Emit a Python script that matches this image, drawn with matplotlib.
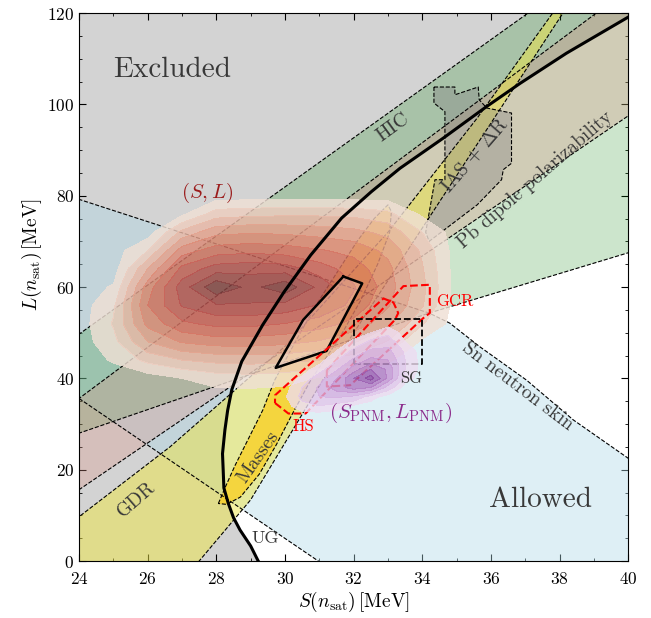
import matplotlib.pyplot as plt
import numpy as np

plt.rcParams['font.family'] = 'serif'
plt.rcParams['font.serif'] = ['cmr10', 'DejaVu Serif']
plt.rcParams['mathtext.fontset'] = 'cm'
plt.rcParams['axes.unicode_minus'] = False
plt.rcParams['axes.formatter.use_mathtext'] = True

# ---- values (S, L in MeV) ----
# unitary gas bound (thick black curve)
ug_S = [29.5, 29.22, 29.0, 28.69, 28.5, 28.35, 28.22, 28.2, 28.18, 28.25, 28.33, 28.45, 28.74,
        29.35, 29.98, 30.75, 31.65, 32.52, 33.35, 34.61, 35.87, 36.85, 38.2, 40.02, 40.5]
ug_L = [-3, 0, 3.3, 6.8, 9.5, 12.6, 16, 19.9, 23.5, 28.7, 33, 37.5, 43.7,
        51.7, 59.0, 67.0, 75.1, 80.9, 86.0, 92.6, 99.5, 104.6, 111.2, 119.2, 122]

# Sn neutron skin band
sn_up_S = [23, 24, 29, 34.2, 34.8, 35.68, 37.04, 38.4, 40, 41]
sn_up_L = [81.6, 79.2, 67, 54.3, 52.1, 46.9, 39.6, 30.9, 22.5, 17]
sn_lo_S = [23, 24, 30.97, 31.6]
sn_lo_L = [40.6, 35.6, 0, -3]

# heavy ion collisions
hic_up_S = [23, 38.2]
hic_up_L = [44.3, 126]
hic_lo_S = [23, 24, 34.2, 40, 41]
hic_lo_L = [25.4, 28, 54.3, 67.5, 69.8]

# Pb dipole polarizability
pb_up_S = [23, 40]
pb_up_L = [30.0, 125.2]
pb_lo_S = [23, 41]
pb_lo_L = [10.5, 102.6]

# giant dipole resonances
gdr_up_S = [22, 24, 26.65, 30, 33, 35.6, 37.8, 38.0]
gdr_up_L = [-1.9, 9.7, 25, 47, 72, 97, 120, 122]
gdr_lo_S = [26.9, 27.5, 29, 31.1, 38.1, 38.3]
gdr_lo_L = [-5, 0, 13.4, 39.6, 120, 122.5]

# nuclear masses
mass_S = [28.06, 28.25, 28.55, 28.95, 29.35, 29.7, 30.3, 30.9, 31.5, 32.1, 32.6, 33.0,
          33.1, 33.05, 32.7, 32.2, 31.6, 30.75, 30.2, 29.75, 29.25, 28.7, 28.3]
mass_L = [12.6, 16, 21, 27, 33, 39.6, 48, 56, 63, 70, 75, 78,
          76.5, 72, 65, 57, 49, 39.6, 32, 25.5, 19, 14, 12.4]

# IAS + Delta R
ias_S = [34.34, 34.95, 34.95, 35.63, 35.66, 35.88, 36.6, 36.6, 36.36, 36.31, 35.6, 34.9,
         34.2, 34.1, 34.37, 34.66, 34.66, 34.34]
ias_L = [103.8, 103.8, 102.1, 103.8, 101, 99.2, 98.1, 87.1, 85.7, 83.5, 78, 74,
         70, 72, 83.5, 83.5, 98.4, 100.3]

# solid black region
blk_S = [31.70, 32.25, 31.21, 29.73, 30.53]
blk_L = [62.3, 60.8, 46.0, 42.3, 52.8]

# HS, GCR, SG
hs_S = [29.71, 30.1, 30.6, 33.2, 33.3, 33.16, 32.87, 29.71]
hs_L = [34.6, 32.3, 32.3, 52.8, 54.3, 56.6, 57.5, 36.3]
gcr_S = [31.22, 31.22, 31.9, 34.03, 34.22, 34.22, 33.45]
gcr_L = [41.8, 38.2, 38.5, 53.2, 54.3, 60.5, 60.2]
sg_S = [32, 34, 34, 32]
sg_L = [43.2, 43.2, 53, 53]

# (S, L) density read as levels on a coarse grid
kde_S = [24, 25, 26, 27, 28, 29, 30, 31, 32, 33, 34, 35]
kde_L = [36, 40, 44, 48, 52, 56, 60, 64, 68, 72, 76, 80]
kde_Z = [
    [0, 0, 0, 0, 0, 0, 0, 0, 0, 0, 0, 0],
    [0, 0, 0, 0.5, 1.0, 1.1, 0.9, 0.4, 0, 0, 0, 0],
    [0, 0.6, 1.8, 2.5, 2.8, 2.9, 2.8, 2.5, 2.0, 0.6, 0, 0],
    [0, 1.2, 3.5, 4.6, 5.0, 5.0, 4.8, 4.4, 3.6, 2.4, 0.3, 0],
    [0, 1.6, 4.8, 6.3, 6.8, 6.8, 6.5, 6.0, 5.2, 3.8, 1.6, 0],
    [0, 1.3, 5.5, 7.6, 8.4, 8.4, 8.2, 7.4, 6.2, 4.6, 2.6, 0],
    [0, 0.6, 5.0, 8.0, 10.3, 9.2, 10.2, 8.2, 6.6, 5.0, 2.8, 0],
    [0, 0, 3.5, 6.8, 8.0, 8.2, 8.0, 7.0, 6.0, 4.8, 2.6, 0],
    [0, 0, 1.5, 5.0, 6.0, 6.2, 6.0, 5.6, 5.2, 4.2, 2.3, 0],
    [0, 0, 0, 2.8, 4.2, 4.4, 4.3, 4.1, 3.8, 3.2, 1.5, 0],
    [0, 0, 0, 0.3, 2.0, 2.2, 2.3, 2.3, 2.2, 1.8, 0.3, 0],
    [0, 0, 0, 0, 0, 0, 0, 0, 0, 0, 0, 0],
]

# (S_PNM, L_PNM) density
pnm_S = [30, 30.5, 31, 31.5, 32, 32.5, 33, 33.5, 34]
pnm_L = [32, 34, 36, 38, 40, 42, 44, 46, 48, 50, 52]
pnm_Z = [
    [0, 0, 0, 0, 0, 0, 0, 0, 0],
    [0, 0.8, 1.0, 0.6, 0.2, 0, 0, 0, 0],
    [0.2, 1.2, 2.0, 2.2, 1.8, 0.6, 0, 0, 0],
    [0, 1.0, 2.2, 3.5, 4.5, 4.0, 1.5, 0, 0],
    [0, 0.4, 1.5, 3.0, 5.0, 6.5, 3.8, 0.6, 0],
    [0, 0, 0.6, 1.8, 3.5, 5.0, 3.8, 1.0, 0],
    [0, 0, 0, 0.9, 2.2, 3.3, 3.0, 1.0, 0],
    [0, 0, 0, 0.3, 1.2, 2.2, 2.3, 0.8, 0],
    [0, 0, 0, 0, 0.4, 1.2, 1.5, 0.3, 0],
    [0, 0, 0, 0, 0, 0.3, 0.8, 0, 0],
    [0, 0, 0, 0, 0, 0, 0, 0, 0],
]

kde_colors = ['#f0e0d5', '#edcdbf', '#e9b8a6', '#e4a18c', '#de8a75', '#d57363',
              '#c96158', '#b85350', '#a34a49', '#874242']
pnm_colors = ['#eedcf0', '#e2c6ea', '#d4aee0', '#c494d2', '#b07ac2', '#9a5cb0', '#8a46a0']

fig = plt.figure(figsize=(6.51, 6.18), dpi=100)
ax = fig.add_axes([0.1214, 0.0922, 0.8436, 0.8867])


def band(up_S, up_L, lo_S, lo_L, corner, color, alpha):
    xs = list(up_S) + [c[0] for c in corner] + list(lo_S)[::-1]
    ys = list(up_L) + [c[1] for c in corner] + list(lo_L)[::-1]
    ax.fill(xs, ys, color=color, alpha=alpha, lw=0, zorder=2)
    ax.plot(up_S, up_L, 'k--', lw=0.8, zorder=4)
    ax.plot(lo_S, lo_L, 'k--', lw=0.8, zorder=4)


# excluded region left of the UG curve
ax.fill_betweenx(ug_L, 23, ug_S, color='#d3d3d3', lw=0, zorder=1)

band(sn_up_S, sn_up_L, sn_lo_S, sn_lo_L, [(41, -3)], '#add8e6', 0.4)
band(hic_up_S, hic_up_L, hic_lo_S, hic_lo_L, [(41, 126)], 'green', 0.2)
band(pb_up_S, pb_up_L, pb_lo_S, pb_lo_L, [(41, 125.2)], '#dc9386', 0.3)
band(gdr_up_S, gdr_up_L, gdr_lo_S, gdr_lo_L, [], '#ede545', 0.5)

ax.fill(mass_S, mass_L, color='#ffc800', alpha=0.6, lw=0, zorder=3)
ax.plot(mass_S + mass_S[:1], mass_L + mass_L[:1], 'k--', lw=0.8, zorder=4)
ax.fill(ias_S, ias_L, color='#808080', alpha=0.35, lw=0, zorder=3)
ax.plot(ias_S + ias_S[:1], ias_L + ias_L[:1], 'k--', lw=0.8, zorder=4)

ax.contourf(kde_S, kde_L, kde_Z, levels=[0.5, 1.5, 2.5, 3.5, 4.5, 5.5, 6.5, 7.5, 8.5, 9.5, 12],
            colors=kde_colors, alpha=0.82, zorder=5)

ax.fill(blk_S, blk_L, color='white', alpha=0.25, lw=0, zorder=6)
ax.plot(blk_S + blk_S[:1], blk_L + blk_L[:1], 'k-', lw=1.8, zorder=7)

ax.plot(hs_S + hs_S[:1], hs_L + hs_L[:1], '--', color='red', lw=1.5, zorder=7)
ax.plot(gcr_S + gcr_S[:1], gcr_L + gcr_L[:1], '--', color='red', lw=1.5, zorder=7)
ax.plot(sg_S + sg_S[:1], sg_L + sg_L[:1], 'k--', lw=1.3, zorder=7)

ax.contourf(pnm_S, pnm_L, pnm_Z, levels=[0.3, 1, 2, 3, 4, 5, 6, 8],
            colors=pnm_colors, alpha=0.8, zorder=8)

ax.plot(ug_S, ug_L, 'k-', lw=2.2, zorder=9)

tc = '#383838'
ax.text(26.71, 107.6, 'Excluded', fontsize=21, color=tc, ha='center', va='center', zorder=10)
ax.text(37.43, 13.4, 'Allowed', fontsize=21, color=tc, ha='center', va='center', zorder=10)
lab = dict(ha='center', va='center', rotation_mode='anchor', zorder=10, color=tc, fontsize=14)
ax.text(33.15, 94.9, 'HIC', rotation=36, **lab)
ax.text(35.54, 88.9, r'IAS $+$ $\Delta$R', rotation=49, **lab)
ax.text(37.28, 83.5, 'Pb dipole polarizability', rotation=41, **lab)
ax.text(36.79, 38.2, 'Sn neutron skin', rotation=-37, **lab)
ax.text(25.66, 13.4, 'GDR', rotation=41, **lab)
ax.text(29.22, 22.8, 'Masses', rotation=55, **lab)
ax.text(29.42, 5.0, 'UG', fontsize=13, color=tc, ha='center', va='center', zorder=10)
ax.text(30.53, 29.4, 'HS', fontsize=12, color='red', ha='center', va='center', zorder=10)
ax.text(34.95, 56.8, 'GCR', fontsize=12, color='red', ha='center', va='center', zorder=10)
ax.text(33.69, 40.0, 'SG', fontsize=12, color=tc, ha='center', va='center', zorder=10)
ax.text(27.73, 80.6, r'$(S, L)$', fontsize=15, color='#9b1c1c', ha='center', va='center', zorder=10)
ax.text(33.09, 32.4, r'$(S_{\rm PNM}, L_{\rm PNM})$', fontsize=15, color='#8b2b8b',
        ha='center', va='center', zorder=10)

ax.set_xlim(24, 40)
ax.set_ylim(0, 120)
ax.set_xticks(np.arange(24, 41, 2))
ax.set_xticks(np.arange(24, 41, 1), minor=True)
ax.set_yticks(np.arange(0, 121, 20))
ax.set_yticks(np.arange(0, 121, 5), minor=True)
ax.tick_params(which='both', direction='in', top=True, right=True, labelsize=12.5)
ax.tick_params(axis='x', which='both', pad=7)
ax.tick_params(which='major', length=5)
ax.tick_params(which='minor', length=2.5)
ax.set_xlabel(r'$S(n_{\rm sat})\,[\mathrm{MeV}]$', fontsize=14, labelpad=2)
ax.set_ylabel(r'$L(n_{\rm sat})\,[\mathrm{MeV}]$', fontsize=14)
ax.yaxis.set_label_coords(-0.063, 0.56)

fig.savefig('out.png', dpi=100)
